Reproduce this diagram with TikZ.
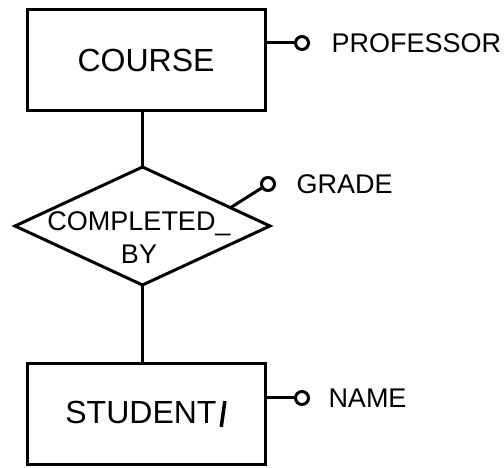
\documentclass[tikz,border=0pt]{standalone}
\usepackage{fontspec}
\setmainfont{Liberation Sans}
\usepackage{graphicx}
\usetikzlibrary{shapes.geometric, positioning, calc}

\begin{document}
\begin{tikzpicture}[x=1pt, y=1pt, line width=3pt, on grid,
    entity/.style={draw, rectangle, minimum width=238pt, minimum height=101pt, inner sep=0pt, outer sep=0pt, font=\fontsize{32}{36}\selectfont},
    relation/.style={draw, diamond, minimum width=255pt, minimum height=118pt, inner sep=0pt, outer sep=0pt},
    attr/.style={draw, circle, minimum size=13pt, inner sep=0pt, line width=3pt},
    attrtext/.style={anchor=west, inner sep=0pt, font=\fontsize{27}{32}\selectfont}]
    \useasboundingbox (0,0) rectangle (504,468);

    \node[entity] (course) at (146,407.5) {COURSE};
    \node[relation] (completed) [below=165.5pt of course, xshift=-3.5pt] {};
    \node[align=center, inner sep=0pt, font=\fontsize{27}{33}\selectfont] (completedtext) [below=12pt of completed, xshift=-3.5pt] {COMPLETED\_\\BY};
    \node[entity] (student) [below=353.5pt of course] {STUDENT\kern3pt\rotatebox{-8}{\rule[-3pt]{3.5pt}{26pt}}};

    \node[attr] (profdot) [right=156pt of course, yshift=17.5pt] {};
    \node[attrtext] (proflabel) [right=28pt of profdot, anchor=west] {PROFESSOR};
    \node[attr] (gradedot) [right=125.5pt of completed, yshift=42pt] {};
    \node[attrtext] (gradelabel) [right=27pt of gradedot, anchor=west] {GRADE};
    \node[attr] (namedot) [right=156pt of student, yshift=16pt] {};
    \node[attrtext] (namelabel) [right=25pt of namedot, anchor=west] {NAME};

    % connectors
    \draw (completed.north) -- (completed.north |- course.south);
    \draw (completed.south) -- (completed.south |- student.north);
    \draw (course.east |- profdot) -- (profdot);
    \draw ($(completed.north)!0.69!(completed.east)$) -- (gradedot);
    \draw (student.east |- namedot) -- (namedot);
\end{tikzpicture}
\end{document}
